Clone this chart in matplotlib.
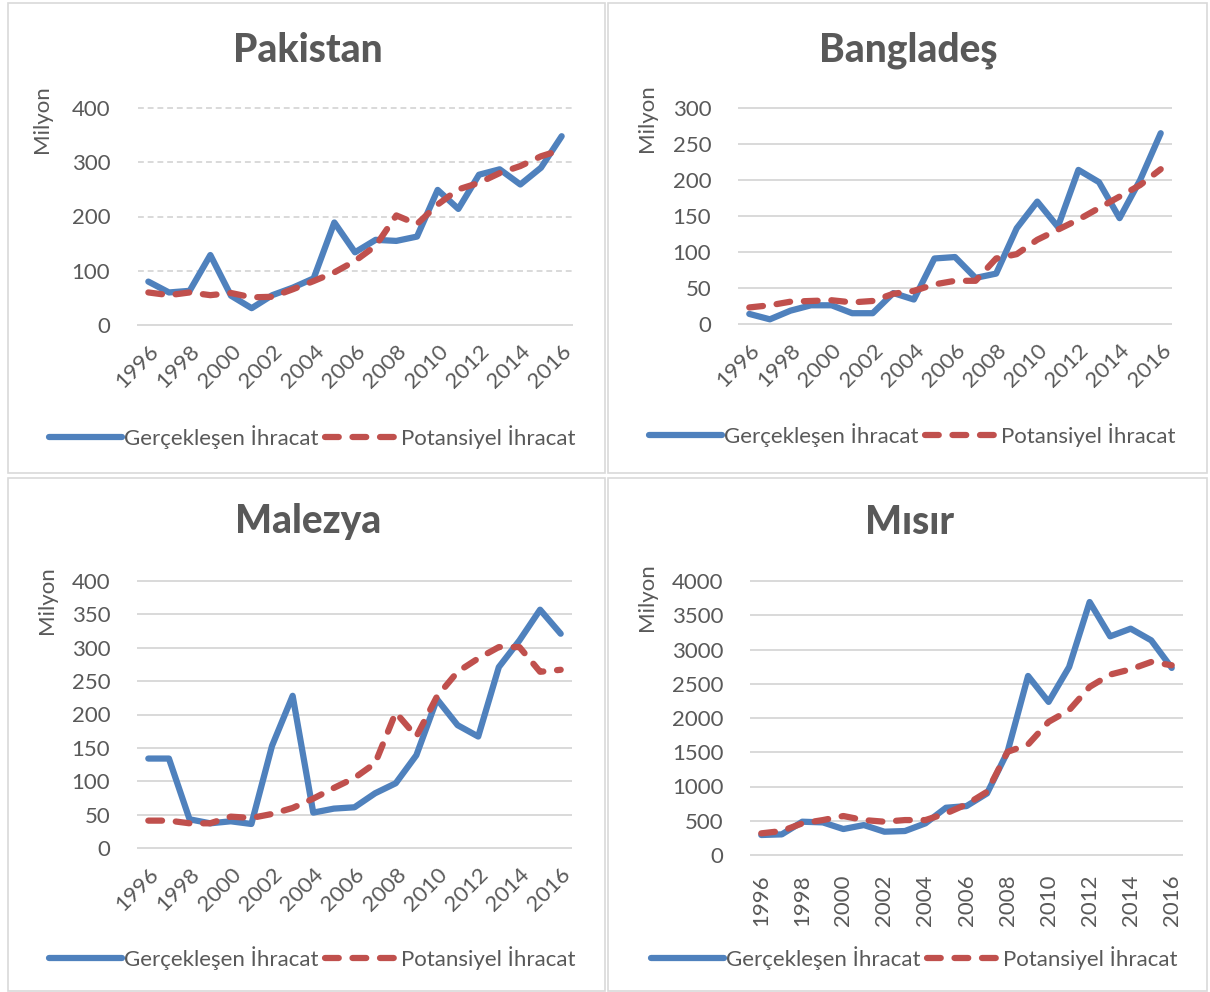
import matplotlib
matplotlib.use("Agg")
import matplotlib.pyplot as plt
from matplotlib.patches import Rectangle

years = list(range(1996, 2017))

pak_actual = [80, 60, 63, 129, 54, 31, 55, 69, 86, 189, 134, 157, 155, 163, 249, 214, 277, 287, 259, 290, 348]
pak_potential = [60, 55, 60, 55, 59, 51, 52, 66, 81, 97, 118, 146, 202, 186, 222, 250, 262, 280, 293, 311, 323]

ban_actual = [14, 6.5, 18.5, 26, 26, 15, 15, 43, 34, 91, 93, 64, 70, 133, 170, 135, 214, 197, 147, 200, 265]
ban_potential = [23, 26, 31, 32, 33, 30, 32, 42, 46, 55, 60, 60, 91, 97, 117, 131, 145, 161, 177, 193, 215]

mal_actual = [134, 134, 43, 37, 40, 36, 153, 228, 53, 59, 61, 82, 97, 139, 223, 184, 167, 271, 311, 357, 321]
mal_potential = [41, 41, 37, 37, 47, 45, 51, 60, 74, 90, 105, 127, 203, 167, 227, 264, 284, 301, 301, 264, 267]

mis_actual = [292, 301, 486, 476, 379, 437, 340, 350, 462, 690, 714, 899, 1506, 2614, 2235, 2745, 3693, 3192, 3304, 3134, 2731]
mis_potential = [316, 350, 462, 510, 569, 510, 486, 510, 510, 607, 739, 923, 1506, 1613, 1944, 2114, 2454, 2634, 2711, 2818, 2770]

labels = ["Gerçekleşen İhracat", "Potansiyel İhracat"]

BLUE = "#4F81BD"
RED = "#C0504D"
GREY = "#595959"
GRID = "#D9D9D9"

plt.rcParams['font.family'] = ['Lato', 'DejaVu Sans']

W, H = 1210, 992
fig = plt.figure(figsize=(W / 100, H / 100), dpi=100)


def px_rect(l, t, r, b):
    return [l / W, 1 - b / H, (r - l) / W, (b - t) / H]


# panel frames
for (l, t, r, b) in [(8, 3, 605, 473), (608, 3, 1207, 473), (8, 478, 605, 991), (608, 478, 1207, 991)]:
    fig.add_artist(Rectangle((l / W, 1 - b / H), (r - l) / W, (b - t) / H,
                             transform=fig.transFigure, fill=False, ec=GRID, lw=1.2))


def panel(rect, title, title_xy, ylab_xy, leg_xy, actual, potential, ymax, ystep, dashed=False, rot=45):
    ax = fig.add_axes(px_rect(*rect))
    ax.set_xlim(years[0] - 0.5, years[-1] + 0.5)
    ax.set_ylim(0, ymax)
    for s in ax.spines.values():
        s.set_visible(False)
    ticks = list(range(0, ymax + 1, ystep))
    for v in ticks:
        ls = (0, (3, 2)) if (dashed and v > 0) else '-'
        ax.axhline(v, color=GRID, lw=1.4, ls=ls, zorder=0, clip_on=False)
    ax.set_yticks(ticks)
    ax.set_xticks(years[::2])
    ax.tick_params(length=0, colors=GREY, labelsize=16)
    ax.tick_params(axis='y', pad=20)
    if rot == 45:
        ax.tick_params(axis='x', pad=12)
        for t in ax.get_xticklabels():
            t.set_rotation(45)
            t.set_ha('right')
            t.set_va('top')
            t.set_rotation_mode('anchor')
    else:
        ax.tick_params(axis='x', pad=14, labelrotation=90)

    l1, = ax.plot(years, actual, color=BLUE, lw=4.5, solid_capstyle='round',
                  solid_joinstyle='round', clip_on=False)
    l2, = ax.plot(years, potential, color=RED, lw=4.5, ls=(0, (2.2, 2.2)),
                  dash_capstyle='round', dash_joinstyle='round', clip_on=False)

    fig.text(title_xy[0] / W, 1 - title_xy[1] / H, title, fontsize=28, fontweight='black',
             color=GREY, ha='center', va='center')
    fig.text(ylab_xy[0] / W, 1 - ylab_xy[1] / H, "Milyon", fontsize=16, color=GREY,
             rotation=90, ha='center', va='center')
    fig.legend([l1, l2], labels, loc='center', bbox_to_anchor=(leg_xy[0] / W, 1 - leg_xy[1] / H),
               ncol=2, frameon=False, fontsize=16, handlelength=3.3, handletextpad=0.1,
               columnspacing=0.3, labelcolor=GREY, borderpad=0, borderaxespad=0)
    return ax


panel((138, 108, 572, 325), "Pakistan", (308, 50), (42, 119), (312, 437),
      pak_actual, pak_potential, 400, 100, dashed=True)
panel((739, 108, 1171, 324), "Bangladeş", (908, 50), (647, 118), (912, 435),
      ban_actual, ban_potential, 300, 50)
panel((138, 581, 571, 848), "Malezya", (308, 522), (47, 600), (312, 958),
      mal_actual, mal_potential, 400, 50)
panel((751, 581, 1182, 855), "Mısır", (910, 522), (647, 597), (914, 958),
      mis_actual, mis_potential, 4000, 500, rot=90)

fig.savefig("out.png", dpi=100)
